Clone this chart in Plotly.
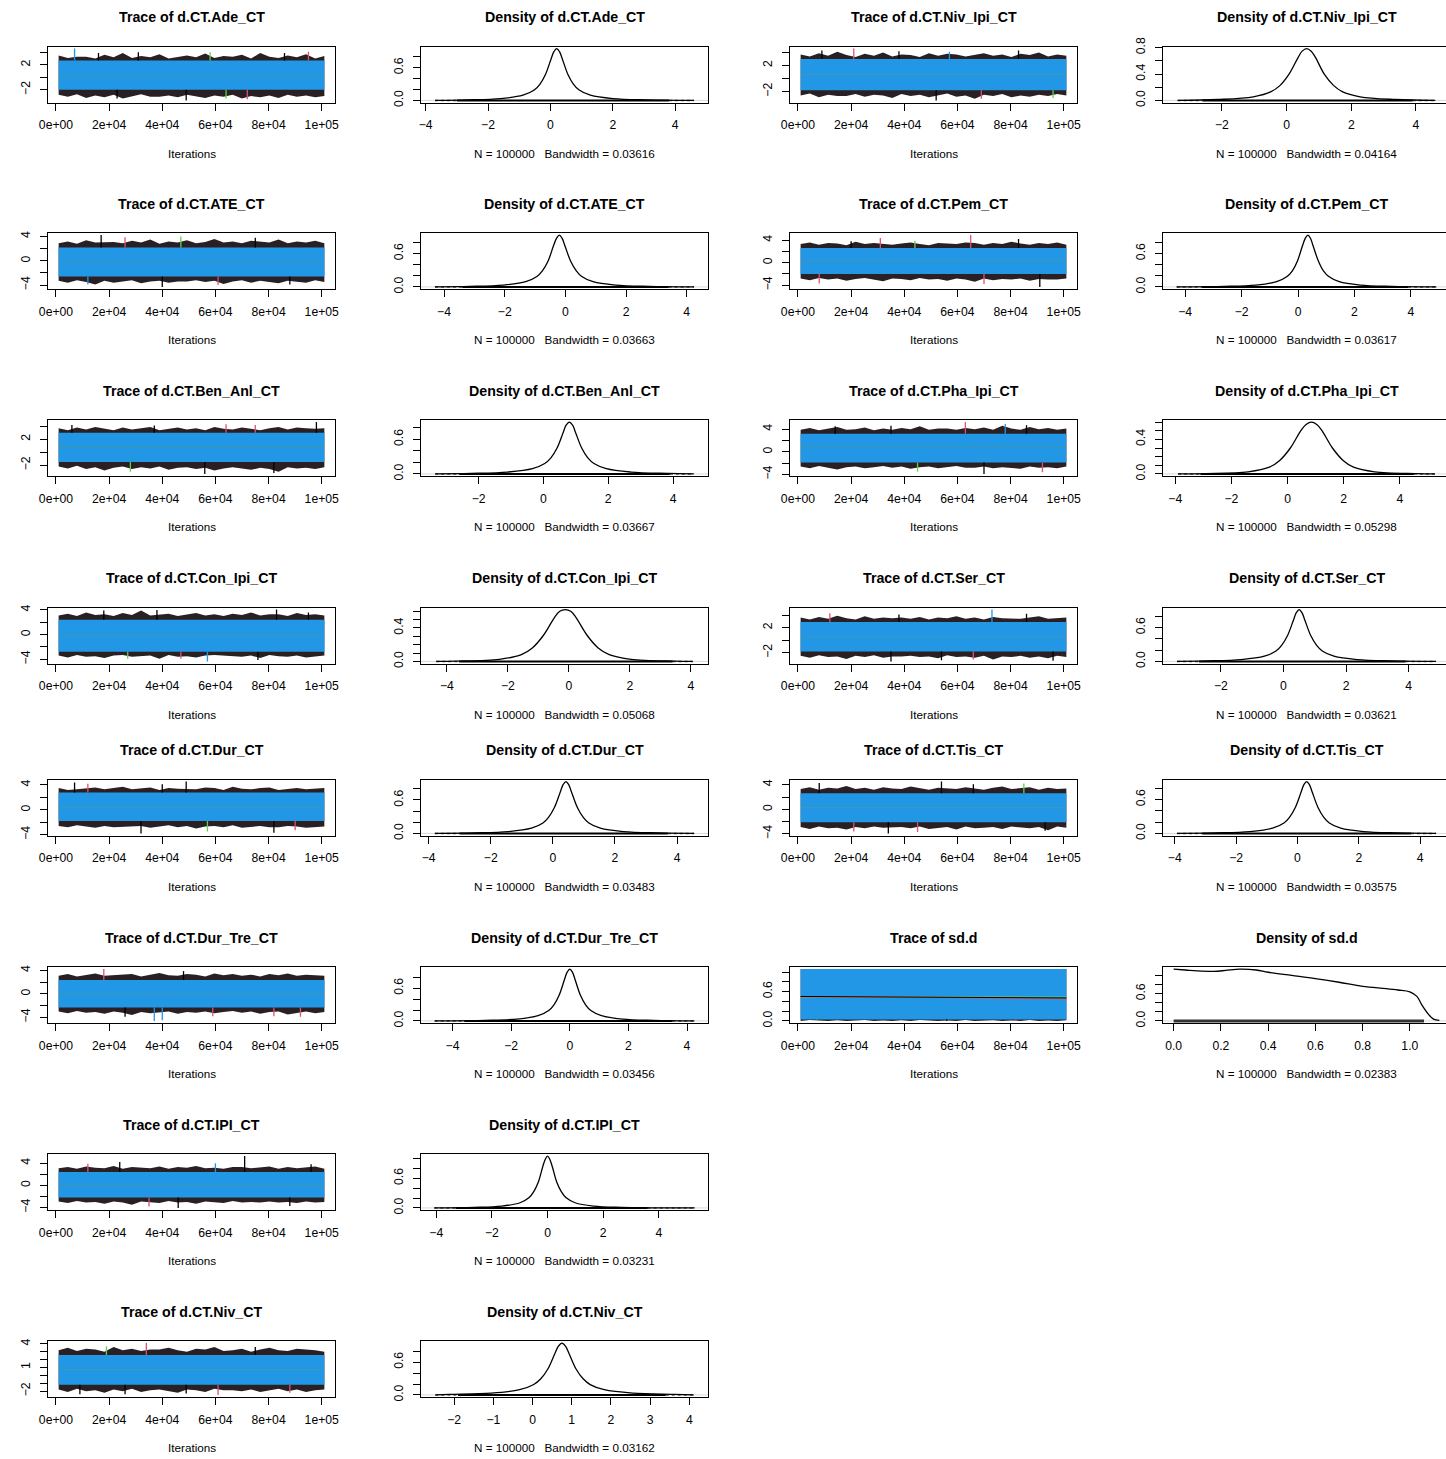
import numpy as np
import plotly.graph_objects as go

# ------------------------------------------------------------------ data
iter_first, iter_last = 1001, 101000
trace_xticks = [0, 20000, 40000, 60000, 80000, 100000]
trace_xlabels = ["0e+00", "2e+04", "4e+04", "6e+04", "8e+04", "1e+05"]

# stats per parameter: [centre, blue_lo, blue_hi, obs_min, obs_max, dense_lo, dense_hi, bandwidth]
ade_stats = [0.2, -2.0, 2.7, -3.7, 4.6, -3.0, 3.8, 0.03616]
niv_ipi_stats = [0.62, -1.8, 3.0, -3.37, 4.6, -2.6, 3.9, 0.04164]
ate_stats = [-0.2, -2.6, 2.2, -4.3, 4.24, -3.4, 3.4, 0.03663]
pem_stats = [0.35, -2.0, 2.6, -4.3, 4.9, -3.4, 3.9, 0.03617]
ben_stats = [0.8, -1.5, 3.0, -3.34, 4.64, -2.6, 3.9, 0.03667]
pha_stats = [0.85, -1.9, 3.2, -3.9, 5.25, -3.1, 4.5, 0.05298]
con_stats = [-0.12, -2.8, 2.4, -4.35, 4.06, -3.6, 3.4, 0.05068]
ser_stats = [0.5, -1.8, 2.9, -3.4, 4.87, -2.7, 3.9, 0.03621]
dur_stats = [0.42, -1.8, 2.8, -3.8, 4.55, -3.0, 3.7, 0.03483]
tis_stats = [0.3, -2.1, 2.6, -3.93, 4.52, -3.1, 3.7, 0.03575]
durtre_stats = [0.0, -2.3, 2.4, -4.61, 4.25, -3.6, 3.5, 0.03456]
sd_stats = [0.49, 0.03, 1.06, 0.0, 1.06, 0.0, 1.06, 0.02383]
ipi_stats = [0.0, -2.2, 2.4, -4.07, 5.29, -3.3, 3.6, 0.03231]
niv_stats = [0.75, -1.2, 2.6, -2.48, 4.11, -1.9, 3.4, 0.03162]

# trace envelopes (upper / lower edge of the chains, read across the run)
ade_up = [3.5,3.1,3.3,3.3,3.0,3.6,3.2,3.9,3.1,3.4,3.2,3.7,3.0,3.3,3.5,3.2,3.8,3.1,3.4,3.3,3.6,3.0,3.9,3.3,3.1,3.5,3.2,3.7,3.0,3.4]
ade_dn = [-2.8,-3.1,-2.7,-3.3,-2.9,-3.2,-2.8,-3.4,-3.0,-2.7,-3.1,-3.1,-2.9,-3.2,-2.8,-3.0,-3.3,-2.9,-3.1,-2.8,-3.4,-3.0,-3.2,-2.9,-3.3,-2.8,-3.1,-2.9,-3.2,-3.0]
niv_ipi_up = [3.7,3.4,3.9,3.5,4.1,3.6,3.3,3.8,3.5,4.0,3.4,3.7,3.6,3.3,3.9,3.5,3.8,3.7,3.4,3.6,3.9,3.5,3.7,3.3,3.8,3.6,4.0,3.4,3.7,3.5]
niv_ipi_dn = [-2.6,-2.3,-2.9,-2.5,-2.7,-2.7,-2.4,-2.8,-2.5,-2.6,-3.0,-2.4,-2.7,-2.5,-2.9,-2.6,-2.3,-2.8,-2.6,-3.1,-2.5,-2.7,-2.4,-2.9,-2.6,-2.8,-2.5,-2.7,-2.4,-2.6]
ate_up = [2.9,3.2,2.8,3.4,3.0,3.1,3.1,2.9,3.3,3.0,3.5,2.8,3.2,3.0,3.4,2.9,3.1,3.6,3.0,3.2,2.9,3.3,3.1,3.0,3.5,2.9,3.2,3.0,3.3,2.9]
ate_dn = [-3.3,-3.6,-3.2,-3.5,-3.9,-3.3,-3.6,-3.4,-3.2,-3.7,-3.4,-3.3,-3.6,-3.4,-3.4,-3.2,-3.5,-3.3,-3.8,-3.4,-3.2,-3.6,-3.3,-3.5,-3.7,-3.3,-3.4,-3.6,-3.2,-3.5]
pem_up = [3.3,3.6,3.2,3.5,3.4,3.1,3.7,3.3,3.5,3.3,3.2,3.4,3.6,3.3,3.1,3.5,3.4,3.3,3.6,3.5,3.2,3.5,3.3,3.7,3.4,3.2,3.5,3.3,3.6,3.2]
pem_dn = [-2.8,-3.1,-2.7,-3.0,-2.8,-3.2,-2.9,-2.7,-3.0,-3.3,-2.8,-2.9,-3.1,-2.7,-3.0,-2.9,-3.2,-2.8,-3.0,-3.4,-2.8,-3.1,-2.9,-3.0,-2.8,-3.2,-2.9,-3.0,-3.0,-2.8]
ben_up = [3.7,3.4,3.8,3.5,3.9,3.6,3.4,3.8,3.5,3.7,3.9,3.4,3.6,3.8,3.5,3.7,3.4,3.9,3.6,3.5,3.8,3.6,3.4,3.7,3.9,3.5,3.8,3.7,3.6,3.7]
ben_dn = [-2.2,-2.5,-2.1,-2.6,-2.3,-2.8,-2.4,-2.2,-2.6,-2.3,-2.5,-2.2,-2.7,-2.4,-2.3,-2.6,-2.4,-2.8,-2.5,-2.3,-2.5,-2.7,-2.4,-2.6,-3.0,-2.3,-2.5,-2.4,-2.6,-2.3]
pha_up = [3.9,4.2,3.8,4.1,4.4,3.9,4.0,4.3,3.8,4.1,3.9,4.2,4.0,4.5,3.9,4.1,4.1,3.9,4.2,4.0,4.3,3.9,4.6,4.1,3.9,4.4,4.0,4.2,3.9,4.1]
pha_dn = [-2.6,-2.9,-2.5,-2.8,-3.1,-2.7,-2.6,-2.9,-2.7,-2.5,-2.8,-2.6,-3.0,-2.7,-2.6,-2.9,-2.7,-2.5,-2.8,-2.8,-2.6,-2.9,-2.7,-2.8,-3.0,-2.6,-2.8,-2.7,-2.9,-2.6]
con_up = [3.1,3.4,3.0,3.6,3.2,3.3,3.0,3.5,3.2,3.9,3.1,3.3,3.4,3.0,3.2,3.5,3.1,3.3,3.0,3.4,3.2,3.6,3.1,3.3,3.3,3.0,3.5,3.2,3.3,3.1]
con_dn = [-3.4,-3.7,-3.3,-3.6,-3.5,-3.8,-3.4,-3.3,-3.6,-3.5,-3.4,-3.9,-3.3,-3.6,-3.5,-3.7,-3.4,-3.3,-3.5,-3.5,-3.6,-3.4,-3.8,-3.3,-3.5,-3.6,-3.4,-3.7,-3.5,-3.4]
ser_up = [3.6,3.3,3.7,3.4,3.9,3.5,3.3,3.8,3.4,3.6,3.5,3.6,3.4,3.7,3.3,3.6,3.5,3.8,3.4,3.6,3.3,3.7,3.5,3.5,3.4,3.6,3.8,3.4,3.5,3.6]
ser_dn = [-2.5,-2.8,-2.4,-2.7,-2.6,-3.0,-2.5,-2.7,-2.4,-2.8,-2.6,-2.6,-2.5,-2.7,-2.6,-2.9,-2.4,-2.7,-2.6,-2.8,-2.5,-3.1,-2.6,-2.7,-2.5,-2.8,-2.6,-2.9,-2.5,-2.7]
dur_up = [3.5,3.2,3.3,3.4,3.6,3.3,3.5,3.7,3.3,3.4,3.6,3.2,3.5,3.4,3.4,3.3,3.6,3.5,3.2,3.7,3.4,3.3,3.5,3.6,3.2,3.4,3.5,3.3,3.4,3.5]
dur_dn = [-2.6,-2.8,-2.5,-2.7,-2.9,-2.6,-2.8,-2.7,-2.7,-2.6,-2.9,-2.7,-2.5,-2.8,-2.6,-3.0,-2.7,-2.6,-2.8,-2.5,-2.9,-2.7,-2.6,-2.8,-2.8,-2.6,-2.7,-2.9,-2.8,-2.7]
tis_up = [3.3,3.6,3.2,3.5,3.4,3.8,3.3,3.5,3.2,3.6,3.4,3.3,3.7,3.4,3.2,3.5,3.4,3.3,3.6,3.4,3.2,3.5,3.7,3.3,3.4,3.6,3.2,3.5,3.3,3.4]
tis_dn = [-2.9,-3.2,-2.8,-3.1,-3.0,-3.3,-2.9,-3.1,-2.8,-3.0,-2.9,-2.9,-3.1,-2.8,-3.2,-3.0,-2.9,-3.3,-2.8,-3.1,-3.0,-2.9,-3.2,-2.8,-3.0,-3.1,-2.9,-3.4,-2.8,-3.0]
durtre_up = [3.1,3.4,3.0,3.3,3.5,3.1,3.2,3.2,3.4,3.0,3.3,3.6,3.2,3.1,3.4,3.3,3.0,3.5,3.2,3.4,3.1,3.3,3.0,3.4,3.2,3.5,3.1,3.3,3.2,3.1]
durtre_dn = [-3.0,-3.3,-2.9,-3.2,-3.1,-3.4,-3.0,-3.2,-3.6,-3.1,-3.3,-3.2,-3.0,-3.4,-3.1,-3.2,-3.0,-3.3,-3.1,-2.9,-3.2,-3.0,-3.4,-3.1,-3.0,-3.5,-3.2,-3.0,-3.3,-3.1]
sd_up = [1.06,1.06,1.058,1.06,1.06,1.06,1.059,1.06,1.06,1.06,1.06,1.058,1.06,1.06,1.06,1.06,1.06,1.059,1.06,1.06,1.06,1.06,1.06,1.058,1.06,1.06,1.06,1.06,1.059,1.06]
sd_dn = [0.0,0.02,0.01,0.0,0.015,0.0,0.01,0.02,0.0,0.01,0.0,0.015,0.0,0.02,0.01,0.0,0.01,0.0,0.02,0.0,0.01,0.015,0.0,0.01,0.0,0.02,0.0,0.01,0.0,0.015]
ipi_up = [3.1,3.3,3.0,3.4,3.2,3.1,3.5,3.0,3.3,3.2,3.1,3.4,3.0,3.3,3.2,3.5,3.1,3.2,3.0,3.3,3.3,3.1,3.2,3.4,3.0,3.3,3.1,3.2,3.4,3.0]
ipi_dn = [-2.9,-3.2,-2.8,-3.1,-3.0,-3.3,-2.9,-3.1,-3.5,-2.9,-3.0,-3.2,-2.8,-3.1,-3.0,-3.3,-2.9,-3.0,-3.2,-2.8,-3.1,-3.0,-3.1,-2.9,-3.1,-3.0,-3.2,-2.9,-3.1,-3.0]
niv_up = [3.2,3.5,3.1,3.4,3.3,3.0,3.6,3.2,3.4,3.1,3.3,3.3,3.5,3.2,3.0,3.4,3.3,3.6,3.1,3.2,3.4,3.0,3.3,3.5,3.2,3.1,3.4,3.3,3.2,3.0]
niv_dn = [-1.8,-2.1,-1.7,-2.0,-1.9,-2.2,-1.8,-2.0,-1.7,-2.1,-1.9,-1.8,-2.0,-2.2,-1.8,-1.9,-2.1,-1.7,-1.9,-1.9,-2.0,-1.8,-2.1,-1.9,-1.7,-2.0,-1.8,-2.1,-1.9,-1.8]

# isolated spikes: iteration, value, chain (0 black, 1 red, 2 green, 3 blue)
ade_sx = [7000, 16000, 31000, 49000, 58000, 72000, 86000, 95000, 23000, 64000]
ade_sy = [4.6, 3.9, 4.0, -3.7, 4.0, -3.5, 3.9, 4.1, -3.4, -3.4]
ade_sc = [3, 0, 0, 0, 2, 1, 0, 1, 0, 2]
niv_ipi_sx = [9000, 21000, 38000, 52000, 57000, 69000, 83000, 96000]
niv_ipi_sy = [4.3, 4.6, 4.2, -3.37, 4.1, -3.1, 4.3, -3.0]
niv_ipi_sc = [0, 1, 0, 0, 3, 1, 0, 2]
ate_sx = [17000, 26000, 40000, 47000, 61000, 75000, 88000, 12000]
ate_sy = [4.24, 3.9, -4.3, 4.0, -4.0, 3.8, -3.9, -3.9]
ate_sc = [0, 1, 0, 2, 1, 0, 0, 3]
pem_sx = [31000, 65000, 91000, 8000, 44000, 70000, 83000, 20000]
pem_sy = [4.4, 4.9, -4.3, -3.7, 3.9, -3.8, 4.2, 3.8]
pem_sc = [1, 1, 0, 1, 2, 1, 0, 0]
ben_sx = [98000, 56000, 64000, 6000, 37000, 82000, 28000, 75000]
ben_sy = [4.64, -3.34, 4.3, 4.2, 4.1, -3.2, -3.0, 4.2]
ben_sc = [0, 0, 1, 0, 0, 0, 2, 1]
pha_sx = [63000, 70000, 78000, 14000, 35000, 86000, 45000, 92000]
pha_sy = [5.25, -3.9, 4.9, 4.5, 4.6, 4.7, -3.5, -3.6]
pha_sc = [1, 0, 3, 0, 0, 0, 2, 1]
con_sx = [83000, 38000, 57000, 18000, 76000, 47000, 95000, 27000]
con_sy = [4.06, 4.0, -4.35, 3.9, -4.1, -3.9, 3.6, -3.9]
con_sc = [0, 0, 3, 0, 0, 1, 0, 2]
ser_sx = [73000, 38000, 35000, 12000, 54000, 86000, 66000, 96000]
ser_sy = [4.87, 4.1, -3.4, 4.3, -3.2, 4.2, -3.1, -3.3]
ser_sc = [3, 0, 0, 1, 0, 0, 1, 0]
dur_sx = [7000, 49000, 32000, 82000, 12000, 40000, 57000, 90000]
dur_sy = [4.4, 4.55, -3.8, -3.7, 4.2, 4.1, -3.5, -3.3]
dur_sc = [0, 0, 0, 0, 1, 0, 2, 1]
tis_sx = [54000, 34000, 8000, 21000, 66000, 85000, 45000, 93000]
tis_sy = [4.52, -3.93, 4.3, -3.6, 4.1, 4.2, -3.7, -3.5]
tis_sc = [0, 0, 0, 1, 0, 2, 1, 0]
durtre_sx = [18000, 37000, 40000, 26000, 48000, 59000, 82000, 92000]
durtre_sy = [4.25, -4.61, -4.5, -3.9, 3.9, -3.8, -3.8, -3.9]
durtre_sc = [1, 3, 3, 0, 0, 1, 1, 1]
sd_sx = [7000, 56000, 82000]
sd_sy = [0.0, 0.0, 0.0]
sd_sc = [2, 0, 1]
ipi_sx = [71000, 46000, 24000, 35000, 60000, 88000, 12000, 96000]
ipi_sy = [5.29, -4.07, 4.2, -3.8, 4.0, -3.7, 3.9, 3.8]
ipi_sc = [0, 0, 0, 1, 3, 0, 1, 0]
niv_sx = [34000, 61000, 19000, 49000, 9000, 75000, 88000, 26000]
niv_sy = [4.11, -2.48, 3.7, -2.3, -2.4, 3.6, -2.2, -2.4]
niv_sc = [1, 1, 2, 0, 0, 0, 1, 0]

# sd.d chain running means (black, red, green) at start / middle / end
sd_mid_iters = [1001, 51000, 101000]
sd_mid_black = [0.50, 0.49, 0.47]
sd_mid_red = [0.49, 0.48, 0.45]
sd_mid_green = [0.49, 0.49, 0.49]

# kernel density curves
ade_dx = [-3.7,-2.68,-1.6,-0.88,-0.52,-0.34,-0.16,0.02,0.11,0.2,0.29,0.38,0.56,0.74,0.92,1.28,2.0,3.08,4.6]
ade_dy = [0.001,0.01,0.033,0.095,0.19,0.295,0.475,0.76,0.893,0.95,0.893,0.76,0.475,0.295,0.19,0.095,0.033,0.01,0.001]
niv_ipi_dx = [-3.37,-2.13,-1.03,-0.48,-0.2,0.07,0.35,0.48,0.62,0.76,0.9,1.17,1.45,1.72,2.27,3.37,4.6]
niv_ipi_dy = [0.002,0.014,0.055,0.133,0.228,0.393,0.644,0.746,0.785,0.746,0.644,0.393,0.228,0.133,0.055,0.014,0.002]
ate_dx = [-4.3,-3.16,-2.05,-1.31,-0.94,-0.76,-0.57,-0.39,-0.29,-0.2,-0.11,-0.02,0.17,0.36,0.54,0.91,1.65,2.76,4.24]
ate_dy = [0.001,0.009,0.033,0.093,0.186,0.288,0.465,0.744,0.874,0.93,0.874,0.744,0.465,0.288,0.186,0.093,0.033,0.009,0.001]
pem_dx = [-4.3,-2.61,-1.5,-0.76,-0.39,-0.2,-0.02,0.16,0.26,0.35,0.44,0.53,0.72,0.9,1.09,1.46,2.2,3.31,4.9]
pem_dy = [0.001,0.009,0.033,0.093,0.186,0.288,0.465,0.744,0.874,0.93,0.874,0.744,0.465,0.288,0.186,0.093,0.033,0.009,0.001]
ben_dx = [-3.34,-2.24,-1.1,-0.34,0.04,0.23,0.42,0.61,0.7,0.8,0.9,0.99,1.18,1.37,1.56,1.94,2.7,3.84,4.64]
ben_dy = [0.001,0.009,0.032,0.09,0.18,0.279,0.45,0.72,0.846,0.9,0.846,0.72,0.45,0.279,0.18,0.09,0.032,0.009,0.001]
pha_dx = [-3.9,-2.9,-1.4,-0.65,-0.28,0.1,0.48,0.66,0.85,1.04,1.22,1.6,1.98,2.35,3.1,4.6,5.25]
pha_dy = [0.001,0.004,0.024,0.078,0.156,0.3,0.504,0.573,0.6,0.573,0.504,0.3,0.156,0.078,0.024,0.004,0.001]
con_dx = [-4.35,-3.72,-2.28,-1.56,-1.2,-0.84,-0.48,-0.3,-0.12,0.06,0.24,0.6,0.96,1.32,2.04,3.48,4.06]
con_dy = [0.001,0.004,0.025,0.081,0.161,0.31,0.521,0.6,0.62,0.6,0.521,0.31,0.161,0.081,0.025,0.004,0.001]
ser_dx = [-3.4,-2.46,-1.35,-0.61,-0.24,-0.06,0.13,0.32,0.41,0.5,0.59,0.68,0.87,1.06,1.24,1.61,2.35,3.46,4.87]
ser_dy = [0.001,0.009,0.032,0.092,0.184,0.285,0.46,0.736,0.865,0.92,0.865,0.736,0.46,0.285,0.184,0.092,0.032,0.009,0.001]
dur_dx = [-3.8,-2.54,-1.43,-0.69,-0.32,-0.14,0.05,0.24,0.33,0.42,0.51,0.6,0.79,0.98,1.16,1.53,2.27,3.38,4.55]
dur_dy = [0.001,0.009,0.033,0.093,0.186,0.288,0.465,0.744,0.874,0.93,0.874,0.744,0.465,0.288,0.186,0.093,0.033,0.009,0.001]
tis_dx = [-3.93,-2.66,-1.55,-0.81,-0.44,-0.26,-0.07,0.12,0.21,0.3,0.39,0.48,0.67,0.86,1.04,1.41,2.15,3.26,4.52]
tis_dy = [0.001,0.009,0.032,0.092,0.184,0.285,0.46,0.736,0.865,0.92,0.865,0.736,0.46,0.285,0.184,0.092,0.032,0.009,0.001]
durtre_dx = [-4.61,-2.88,-1.8,-1.08,-0.72,-0.54,-0.36,-0.18,-0.09,0.0,0.09,0.18,0.36,0.54,0.72,1.08,1.8,2.88,4.25]
durtre_dy = [0.001,0.01,0.033,0.095,0.19,0.295,0.475,0.76,0.893,0.95,0.893,0.76,0.475,0.295,0.19,0.095,0.033,0.01,0.001]
sd_dx = [0.0,0.05,0.1,0.17,0.22,0.28,0.35,0.4,0.5,0.6,0.7,0.8,0.9,0.95,1.0,1.03,1.05,1.08,1.1,1.125]
sd_dy = [1.14,1.12,1.10,1.09,1.11,1.14,1.12,1.07,1.0,0.93,0.85,0.76,0.71,0.68,0.64,0.54,0.36,0.14,0.04,0.01]
sd_dens_lim = [0.0, 1.125]
ipi_dx = [-4.07,-2.64,-1.65,-0.99,-0.66,-0.5,-0.33,-0.17,-0.08,0.0,0.08,0.17,0.33,0.5,0.66,0.99,1.65,2.64,5.29]
ipi_dy = [0.001,0.011,0.037,0.105,0.21,0.326,0.525,0.84,0.987,1.05,0.987,0.84,0.525,0.326,0.21,0.105,0.037,0.011,0.001]
niv_dx = [-2.48,-2.13,-1.05,-0.33,0.03,0.21,0.39,0.57,0.66,0.75,0.84,0.93,1.11,1.29,1.47,1.83,2.55,3.63,4.11]
niv_dy = [0.001,0.01,0.033,0.095,0.19,0.295,0.475,0.76,0.893,0.95,0.893,0.76,0.475,0.295,0.19,0.095,0.033,0.01,0.001]

# tick sets
ty_pm2 = ([-2, 0, 2, 4], ["\u22122", "", "2", ""])
ty_pm4 = ([-4, -2, 0, 2, 4], ["\u22124", "", "0", "", "4"])
ty_niv = ([-2, -1, 0, 1, 2, 3, 4], ["\u22122", "", "", "1", "", "", "4"])
ty_sd = ([0, 0.2, 0.4, 0.6, 0.8, 1.0], ["0.0", "", "", "0.6", "", ""])
dy_a = ([0, 0.2, 0.4, 0.6, 0.8], ["0.0", "", "", "0.6", ""])
dy_b = ([0, 0.2, 0.4, 0.6, 0.8], ["0.0", "", "0.4", "", "0.8"])
dy_c = ([0, 0.1, 0.2, 0.3, 0.4, 0.5, 0.6], ["0.0", "", "", "", "0.4", "", ""])
dy_d = ([0, 0.2, 0.4, 0.6, 0.8, 1.0], ["0.0", "", "", "0.6", "", ""])
dx_4 = ([-4, -2, 0, 2, 4], ["\u22124", "\u22122", "0", "2", "4"])
dx_2 = ([-2, 0, 2, 4], ["\u22122", "0", "2", "4"])
dx_niv = ([-2, -1, 0, 1, 2, 3, 4], ["\u22122", "\u22121", "0", "1", "2", "3", "4"])
dx_sd = ([0, 0.2, 0.4, 0.6, 0.8, 1.0], ["0.0", "0.2", "0.4", "0.6", "0.8", "1.0"])

# (name, row, side, stats, up, dn, spikes, dens_x, dens_y, trace y ticks, dens y ticks, dens x ticks)
panels = [
    ("d.CT.Ade_CT", 0, 0, ade_stats, ade_up, ade_dn, (ade_sx, ade_sy, ade_sc), ade_dx, ade_dy, ty_pm2, dy_a, dx_4),
    ("d.CT.ATE_CT", 1, 0, ate_stats, ate_up, ate_dn, (ate_sx, ate_sy, ate_sc), ate_dx, ate_dy, ty_pm4, dy_a, dx_4),
    ("d.CT.Ben_Anl_CT", 2, 0, ben_stats, ben_up, ben_dn, (ben_sx, ben_sy, ben_sc), ben_dx, ben_dy, ty_pm2, dy_a, dx_2),
    ("d.CT.Con_Ipi_CT", 3, 0, con_stats, con_up, con_dn, (con_sx, con_sy, con_sc), con_dx, con_dy, ty_pm4, dy_c, dx_4),
    ("d.CT.Dur_CT", 4, 0, dur_stats, dur_up, dur_dn, (dur_sx, dur_sy, dur_sc), dur_dx, dur_dy, ty_pm4, dy_a, dx_4),
    ("d.CT.Dur_Tre_CT", 5, 0, durtre_stats, durtre_up, durtre_dn, (durtre_sx, durtre_sy, durtre_sc), durtre_dx, durtre_dy, ty_pm4, dy_a, dx_4),
    ("d.CT.IPI_CT", 6, 0, ipi_stats, ipi_up, ipi_dn, (ipi_sx, ipi_sy, ipi_sc), ipi_dx, ipi_dy, ty_pm4, dy_d, dx_4),
    ("d.CT.Niv_CT", 7, 0, niv_stats, niv_up, niv_dn, (niv_sx, niv_sy, niv_sc), niv_dx, niv_dy, ty_niv, dy_a, dx_niv),
    ("d.CT.Niv_Ipi_CT", 0, 1, niv_ipi_stats, niv_ipi_up, niv_ipi_dn, (niv_ipi_sx, niv_ipi_sy, niv_ipi_sc), niv_ipi_dx, niv_ipi_dy, ty_pm2, dy_b, dx_2),
    ("d.CT.Pem_CT", 1, 1, pem_stats, pem_up, pem_dn, (pem_sx, pem_sy, pem_sc), pem_dx, pem_dy, ty_pm4, dy_a, dx_4),
    ("d.CT.Pha_Ipi_CT", 2, 1, pha_stats, pha_up, pha_dn, (pha_sx, pha_sy, pha_sc), pha_dx, pha_dy, ty_pm4, dy_c, dx_4),
    ("d.CT.Ser_CT", 3, 1, ser_stats, ser_up, ser_dn, (ser_sx, ser_sy, ser_sc), ser_dx, ser_dy, ty_pm2, dy_a, dx_2),
    ("d.CT.Tis_CT", 4, 1, tis_stats, tis_up, tis_dn, (tis_sx, tis_sy, tis_sc), tis_dx, tis_dy, ty_pm4, dy_a, dx_4),
    ("sd.d", 5, 1, sd_stats, sd_up, sd_dn, (sd_sx, sd_sy, sd_sc), sd_dx, sd_dy, ty_sd, dy_d, dx_sd),
]

# ------------------------------------------------------------------ layout helpers
W, H = 1446, 1459
BOX_W, BOX_H = 287, 56
COL_LEFT = [48, 421, 790, 1163]
ROW_TOP = [46.5, 233, 420, 607.5, 779.5, 967, 1154, 1341]
BLUE, RED, GREEN, BLACK = "#2297E6", "#DF536B", "#61D04F", "#000000"
CHAIN_COLORS = [BLACK, RED, GREEN, BLUE]
FRINGE = "#2a2024"
FONT = "Liberation Sans, Arial, Helvetica, sans-serif"

fig = go.Figure()
layout_axes = {}
annotations = []
counter = [0]


def new_axes(col, row, xr, yr, xt, xtl, yt, ytl):
    counter[0] += 1
    k = counter[0]
    left = COL_LEFT[col]
    top = ROW_TOP[row]
    clip = left + BOX_W > W
    if clip:
        frac = (W - left) / BOX_W
        xr = [xr[0], xr[0] + (xr[1] - xr[0]) * frac]
        x1 = 1.0
    else:
        x1 = (left + BOX_W) / W
    sfx = "" if k == 1 else str(k)
    common = dict(showgrid=False, zeroline=False, showline=True, linecolor="black",
                  linewidth=1, ticks="outside", ticklen=7, tickwidth=1, tickcolor="black",
                  tickfont=dict(family=FONT, size=12.2, color="black"), fixedrange=True,
                  tickmode="array")
    layout_axes["xaxis" + sfx] = dict(domain=[left / W, x1], range=xr, anchor="y" + sfx,
                                      tickvals=xt, ticktext=xtl, mirror=True,
                                      ticklabelstandoff=4, **common)
    layout_axes["yaxis" + sfx] = dict(domain=[1 - (top + BOX_H) / H, 1 - top / H], range=yr,
                                      anchor="x" + sfx, tickvals=yt, ticktext=ytl,
                                      tickangle=-90, mirror=not clip,
                                      ticklabelstandoff=5, **common)
    return "x" + sfx, "y" + sfx, left, top


def add_texts(left, top, title, sub):
    cx = (left + BOX_W / 2) / W
    annotations.append(dict(x=cx, y=1 - (top - 29.5) / H, xref="paper", yref="paper",
                            text="<b>" + title + "</b>", showarrow=False,
                            xanchor="center", yanchor="middle",
                            font=dict(family=FONT, size=14.2, color="black")))
    annotations.append(dict(x=cx, y=1 - (top + BOX_H + 50.5) / H, xref="paper", yref="paper",
                            text=sub, showarrow=False, xanchor="center", yanchor="middle",
                            font=dict(family=FONT, size=11.7, color="black")))


def line(xa, ya, x, y, color, width, dash="solid", shape="linear"):
    fig.add_trace(go.Scatter(x=x, y=y, mode="lines", xaxis=xa, yaxis=ya, hoverinfo="skip",
                             showlegend=False, connectgaps=False,
                             line=dict(color=color, width=width, dash=dash, shape=shape)))


def poly(xa, ya, x, y, color):
    fig.add_trace(go.Scatter(x=x, y=y, mode="lines", fill="toself", fillcolor=color,
                             xaxis=xa, yaxis=ya, hoverinfo="skip", showlegend=False,
                             line=dict(width=0, color=color)))


it_span = iter_last - iter_first
trace_xr = [iter_first - 0.04 * it_span, iter_last + 0.04 * it_span]

for name, row, side, st, up, dn, spk, dx, dy, tyt, dyt, dxt in panels:
    centre, blo, bhi, omin, omax, dlo, dhi, bw = st
    # ---------------- trace panel
    ospan = omax - omin
    yr = [omin - 0.04 * ospan, omax + 0.04 * ospan]
    xa, ya, left, top = new_axes(2 * side, row, trace_xr, yr, trace_xticks, trace_xlabels,
                                 tyt[0], tyt[1])
    its = list(np.linspace(iter_first, iter_last, len(up)))
    poly(xa, ya, its + its[::-1], list(up) + list(dn)[::-1], FRINGE)
    poly(xa, ya, [iter_first, iter_last, iter_last, iter_first], [blo, blo, bhi, bhi], BLUE)
    sx, sy, sc = spk
    for ci, colr in enumerate(CHAIN_COLORS):
        xs, ys = [], []
        for x, y, c in zip(sx, sy, sc):
            if c == ci:
                base = bhi if y > centre else blo
                xs += [x, x, None]
                ys += [base, y, None]
        if xs:
            line(xa, ya, xs, ys, colr, 1.3)
    if name == "sd.d":
        line(xa, ya, sd_mid_iters, sd_mid_green, GREEN, 1.0)
        line(xa, ya, sd_mid_iters, sd_mid_red, RED, 1.0)
        line(xa, ya, sd_mid_iters, sd_mid_black, BLACK, 1.0)
    else:
        line(xa, ya, [iter_first, iter_last], [centre, centre], "#4f9a9a", 0.7)
    add_texts(left, top, "Trace of " + name, "Iterations")

    # ---------------- density panel
    if name == "sd.d":
        lo, hi = sd_dens_lim
    else:
        lo, hi = omin - 3 * bw, omax + 3 * bw
    span = hi - lo
    dxr = [lo - 0.04 * span, hi + 0.04 * span]
    hmax = max(dy)
    dyr = [-0.04 * hmax, 1.04 * hmax]
    xa, ya, left, top = new_axes(2 * side + 1, row, dxr, dyr, dxt[0], dxt[1], dyt[0], dyt[1])
    line(xa, ya, dxr, [0, 0], "#BEBEBE", 0.6)
    if name == "sd.d":
        line(xa, ya, [omin, omax], [0, 0], "#333333", 3.0)
    else:
        line(xa, ya, [omin, dlo], [0, 0], "#555555", 1.4, dash="dot")
        line(xa, ya, [dhi, omax], [0, 0], "#555555", 1.4, dash="dot")
        line(xa, ya, [dlo, dhi], [0, 0], BLACK, 2.0)
    line(xa, ya, dx, dy, BLACK, 1.3, shape="spline")
    add_texts(left, top, "Density of " + name,
              "N = 100000\u00a0\u00a0\u00a0Bandwidth = %.5f" % bw)

fig.update_layout(width=W, height=H,
                  margin=dict(l=0, r=0, t=0, b=0, pad=0, autoexpand=False),
                  paper_bgcolor="white", plot_bgcolor="white", showlegend=False,
                  font=dict(family=FONT, color="black"), annotations=annotations,
                  **layout_axes)

fig.write_html("out.html",
               config={"displayModeBar": False, "staticPlot": True},
               post_script="document.body.style.margin='0';"
                           "document.body.style.overflow='hidden';")
